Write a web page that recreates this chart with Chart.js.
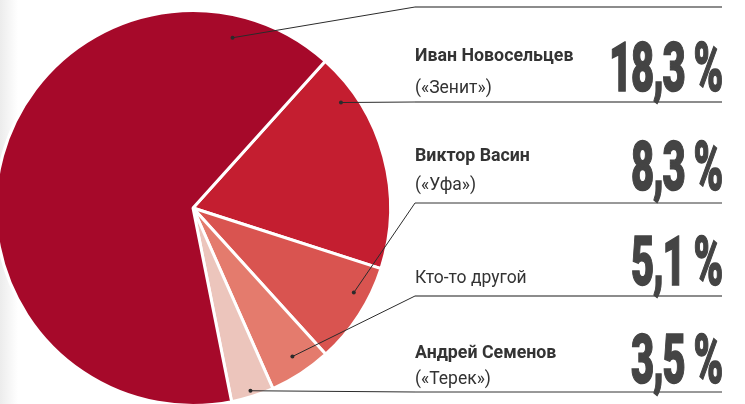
<!DOCTYPE html>
<html>
<head>
<meta charset="utf-8">
<script src="https://cdn.jsdelivr.net/npm/chart.js@4.4.0/dist/chart.umd.min.js"></script>
<style>
    html, body { margin: 0; padding: 0; background: #fff; width: 745px; height: 404px; overflow: hidden; position: relative; font-family: Roboto, "Noto Sans", sans-serif; }
    #chart { position: absolute; left: -6px; top: 0; }
    .shade { position: absolute; left: 0; top: 0; width: 18px; height: 404px; background: linear-gradient(to right, #ececec, #fff); }
    .txt { position: absolute; left: 415px; font-size: 17.5px; line-height: 17px; color: #333; white-space: nowrap; }
    .txt.bold { font-weight: 700; font-size: 17.8px; }
    .pct { position: absolute; right: 23px; font-size: 69px; line-height: 69px; font-weight: 900; color: #444; white-space: nowrap; letter-spacing: -2px; -webkit-text-stroke: 1.5px #444; transform: scaleX(0.58); transform-origin: right center; }
</style>
</head>
<body>
<div class="shade"></div>
<canvas id="chart" width="751" height="420"></canvas>
<div id="labels"></div>
<script>
// data (the big slice has its caption cut off in the picture)
const players = ['Иван Новосельцев', 'Виктор Васин', 'Кто-то другой', 'Андрей Семенов', ''];
const clubs = ['(«Зенит»)', '(«Уфа»)', '', '(«Терек»)', ''];
const shares = [18.3, 8.3, 5.1, 3.5, 64.8];
const colors = ['#c41e30', '#d95450', '#e47b6d', '#ecc5bc', '#a6092a'];

// layout of the captions on the right
const rowY = [102, 203, 296, 392, 7];
const rowLine = [['#8c8c8c', 2], ['#333', 1], ['#8c8c8c', 2], ['#333', 1], ['#8c8c8c', 2]];
const nameBase = [60, 160, 283, 357];
const clubBase = [93, 190, null, 384];
const pctBase = [91, 190, 285, 383];
// where the leader dot sits in each slice: [fraction of the sweep, fraction of the radius]
const dotAt = [[0.19, 0.92], [0.33, 0.92], [0.46, 0.905], [0.51, 0.97], [0.876, 0.885]];
const OFF = 6; // canvas is shifted 6px left

const leaders = {
    id: 'leaders',
    afterDatasetsDraw(chart) {
        const ctx = chart.ctx;
        const arcs = chart.getDatasetMeta(0).data;
        ctx.save();
        arcs.forEach((arc, i) => {
            const { x, y, startAngle, endAngle, outerRadius } = arc.getProps(['x', 'y', 'startAngle', 'endAngle', 'outerRadius'], true);
            const a = startAngle + dotAt[i][0] * (endAngle - startAngle);
            const r = outerRadius * dotAt[i][1];
            const px = x + r * Math.cos(a), py = y + r * Math.sin(a);
            const ex = 415 + OFF, ey = rowY[i];
            ctx.strokeStyle = '#2b2b2b';
            ctx.lineWidth = 1;
            ctx.beginPath();
            ctx.moveTo(px, py);
            ctx.lineTo(ex, ey);
            ctx.stroke();
            ctx.strokeStyle = rowLine[i][0];
            ctx.lineWidth = rowLine[i][1];
            ctx.beginPath();
            ctx.moveTo(ex, ey);
            ctx.lineTo(722 + OFF, ey);
            ctx.stroke();
            ctx.fillStyle = '#2b2b2b';
            ctx.beginPath();
            ctx.arc(px, py, 2, 0, Math.PI * 2);
            ctx.fill();
        });
        ctx.restore();
    }
};

new Chart(document.getElementById('chart'), {
    type: 'pie',
    data: {
        labels: players,
        datasets: [{
            data: shares,
            backgroundColor: colors,
            borderColor: '#fff',
            borderWidth: 3,
            hoverOffset: 0,
        }]
    },
    options: {
        responsive: false,
        animation: false,
        rotation: 42,
        layout: { padding: { left: 0, top: 9, right: 353, bottom: 13 } },
        plugins: { legend: { display: false }, tooltip: { enabled: false } },
    },
    plugins: [leaders]
});

const box = document.getElementById('labels');
nameBase.forEach((b, i) => {
    const n = document.createElement('div');
    n.className = 'txt' + (clubs[i] ? ' bold' : '');
    n.style.top = (b - 14) + 'px';
    n.textContent = players[i];
    box.appendChild(n);
    if (clubs[i]) {
        const c = document.createElement('div');
        c.className = 'txt';
        c.style.top = (clubBase[i] - 14) + 'px';
        c.textContent = clubs[i];
        box.appendChild(c);
    }
    const p = document.createElement('div');
    p.className = 'pct';
    p.style.top = (pctBase[i] - 58) + 'px';
    p.textContent = shares[i].toFixed(1).replace('.', ',') + ' %';
    box.appendChild(p);
});
</script>
</body>
</html>
